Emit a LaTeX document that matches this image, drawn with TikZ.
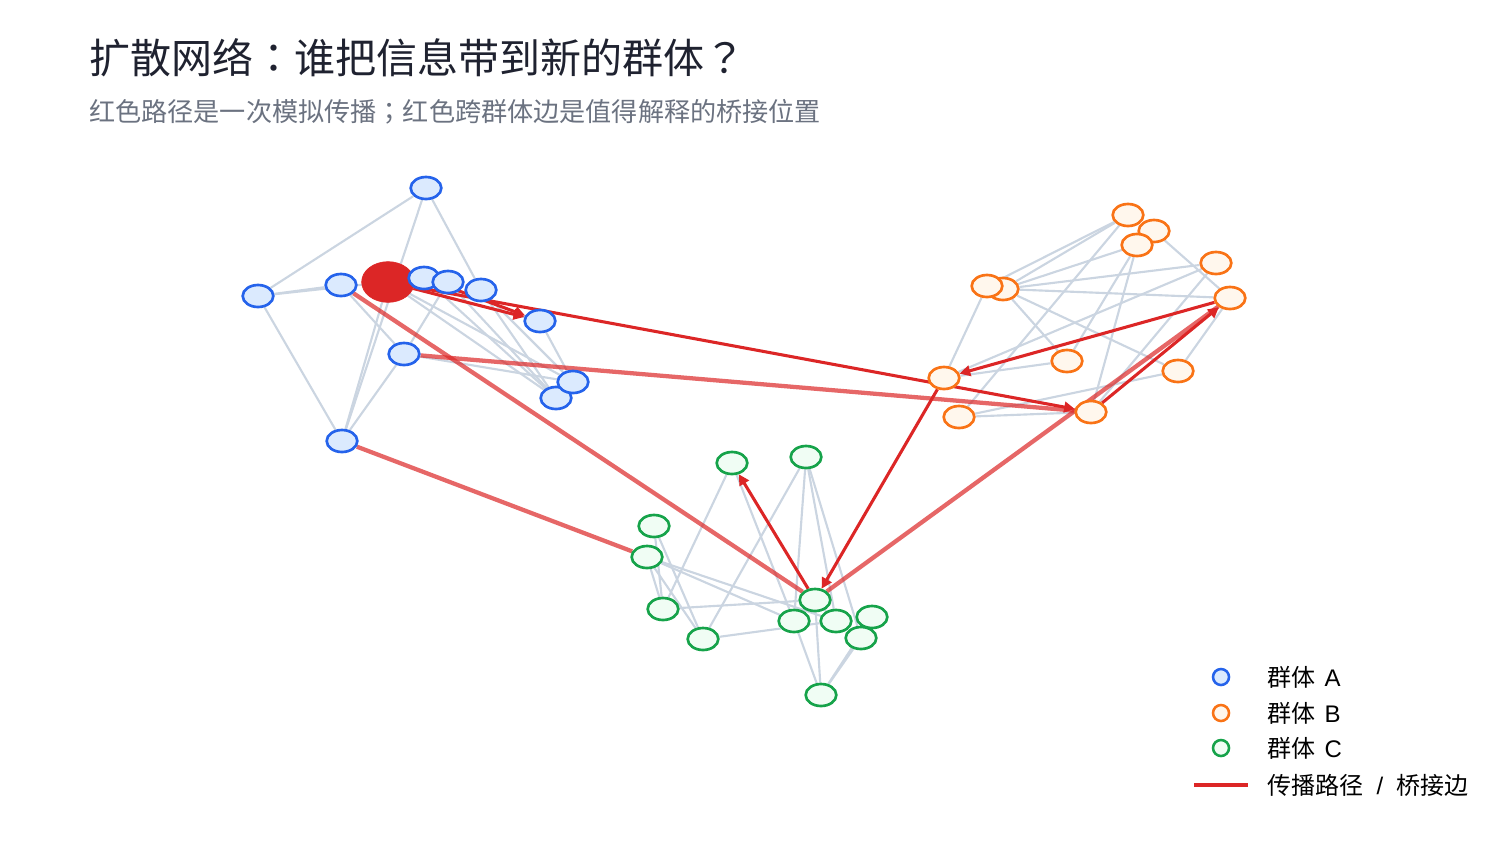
\documentclass[tikz,border=0pt]{standalone}
\usepackage{fontspec}
\setmainfont{Noto Sans CJK SC}
\newfontfamily\jpfont{Noto Sans CJK JP}
\newfontfamily\latfont{Liberation Sans}
\usetikzlibrary{shapes.geometric,arrows.meta}
\pgfdeclarelayer{bg}\pgfdeclarelayer{mid}\pgfsetlayers{bg,mid,main}
\definecolor{blueS}{HTML}{2563EB}\definecolor{blueF}{HTML}{DBEAFE}
\definecolor{orS}{HTML}{F97316}\definecolor{orF}{HTML}{FFF7ED}
\definecolor{grS}{HTML}{16A34A}\definecolor{grF}{HTML}{F0FDF4}
\definecolor{redC}{HTML}{DC2626}\definecolor{grayE}{HTML}{CBD5E1}
\definecolor{titleC}{HTML}{1F2230}\definecolor{subC}{HTML}{6B7280}
\begin{document}
\begin{tikzpicture}[x=0.75pt,y=-0.75pt,
  nbase/.style={ellipse,line width=2pt,minimum width=23pt,minimum height=16.5pt,inner sep=0pt},
  nA/.style={nbase,draw=blueS,fill=blueF},
  nB/.style={nbase,draw=orS,fill=orF},
  nC/.style={nbase,draw=grS,fill=grF},
  seednode/.style={ellipse,fill=redC,draw=redC,line width=0.5pt,minimum width=39.5pt,minimum height=30.5pt,inner sep=0pt},
  gedge/.style={draw=grayE,line width=1.6pt},
  redarrow/.style={draw=redC,line width=2.3pt,-{Triangle[length=8pt,width=8pt]}},
  bridge/.style={draw=redC,draw opacity=0.7,line width=3.2pt},
  legc/.style={circle,line width=1.9pt,minimum size=12pt,inner sep=0pt},
  legt/.style={anchor=west,inner sep=0pt,font=\fontsize{18}{22}\selectfont,text=black}]
\useasboundingbox (0,0) rectangle (1512,840);
% title
\node[anchor=base west,inner sep=0pt,font=\fontsize{30.75}{36}\selectfont,text=titleC] (title) at (89,73) {扩散网络{\jpfont ：}谁把信息带到新的群体{\jpfont ？}};
\node[anchor=base west,inner sep=0pt,font=\fontsize{19.6}{24}\selectfont,text=subC] (sub) at (89,121) {红色路径是一次模拟传播{\jpfont ；}红色跨群体边是值得解释的桥接位置};
% cluster A
\node[nA] (A1) at (426,188) {};
\node[nA] (A2) at (258,296) {};
\node[nA] (A3) at (341,285) {};
\node[seednode] (S) at (388,282) {};
\node[nA] (A4) at (424,278) {};
\node[nA] (A5) at (448,282) {};
\node[nA] (A6) at (481,290) {};
\node[nA] (A7) at (540,321) {};
\node[nA] (A8) at (404,354) {};
\node[nA] (A10) at (556,398) {};
\node[nA] (A9) at (573,382) {};
\node[nA] (A11) at (342,441) {};
% cluster B
\node[nB] (B2) at (1154,231) {};
\node[nB] (B1) at (1128,215) {};
\node[nB] (B3) at (1137,245) {};
\node[nB] (B4) at (1216,263) {};
\node[nB] (B6) at (1003,289) {};
\node[nB] (B5) at (987,286) {};
\node[nB] (B7) at (1230,298) {};
\node[nB] (B8) at (944,378) {};
\node[nB] (B9) at (1067,361) {};
\node[nB] (B10) at (1178,371) {};
\node[nB] (B11) at (959,417) {};
\node[nB] (B12) at (1091,412) {};
% cluster C
\node[nC] (C1) at (732,463) {};
\node[nC] (C2) at (806,457) {};
\node[nC] (C3) at (654,526) {};
\node[nC] (C4) at (647,557) {};
\node[nC] (C5) at (663,609) {};
\node[nC] (C6) at (703,639) {};
\node[nC] (C8) at (794,621) {};
\node[nC] (C9) at (836,621) {};
\node[nC] (C7) at (815,600) {};
\node[nC] (C10) at (872,617) {};
\node[nC] (C11) at (861,638) {};
\node[nC] (C12) at (821,695) {};
% gray edges
\begin{pgfonlayer}{bg}
\foreach \a/\b in {A1/A2,A1/A11,A1/A6,A2/A3,A2/A4,A2/A11,A3/A8,A8/A11,A8/A5,A8/A9,S/A11,S/A10,S/A9,A4/A10,A5/A10,A6/A10,A6/A9,A7/A9,S/A7,
  B5/B1,B6/B1,B6/B3,B6/B4,B6/B7,B6/B9,B6/B10,B5/B8,B1/B11,B3/B9,B3/B12,B2/B7,B4/B8,B4/B12,B7/B10,B10/B11,B9/B8,B11/B12,
  C1/C5,C1/C8,C2/C6,C2/C8,C2/C9,C2/C11,C3/C6,C3/C5,C4/C5,C4/C6,C4/C8,C4/C9,C5/C7,C6/C9,C8/C12,C7/C12,C11/C12,C10/C12,C7/C9}
  {\draw[gedge] (\a) -- (\b);}
\end{pgfonlayer}
% red edges
\begin{pgfonlayer}{mid}
\draw[bridge] (A3) -- (C7);
\draw[bridge] (A8) -- (B12);
\draw[bridge] (A11) -- (C4);
\draw[bridge] (C7) -- (B7);
\draw[redarrow] (S) -- (A7);
\draw[redarrow] (A4) -- (A7);
\draw[redarrow] (S) -- (B12);
\draw[redarrow] (B12) -- (B7);
\draw[redarrow] (B7) -- (B8);
\draw[redarrow] (B8) -- (C7);
\draw[redarrow] (C7) -- (C1);
\end{pgfonlayer}
% legend
\node[legc,draw=blueS,fill=blueF] (LA) at (1221,677) {};
\node[legc,draw=orS,fill=orF] (LB) at (1221,713) {};
\node[legc,draw=grS,fill=grF] (LC) at (1221,748) {};
\coordinate (L1) at (1194,785);
\coordinate (L2) at (1248,785);
\draw[draw=redC,line width=3pt] (L1) -- (L2);
\node[legt] (tA) at (1267,677) {群体\kern7pt{\latfont A}};
\node[legt] (tB) at (1267,713) {群体\kern7pt{\latfont B}};
\node[legt] (tC) at (1267,748) {群体\kern7pt{\latfont C}};
\node[legt] (tR) at (1267,785) {传播路径\kern10pt{\latfont /}\kern 10pt 桥接边};
\end{tikzpicture}
\end{document}
